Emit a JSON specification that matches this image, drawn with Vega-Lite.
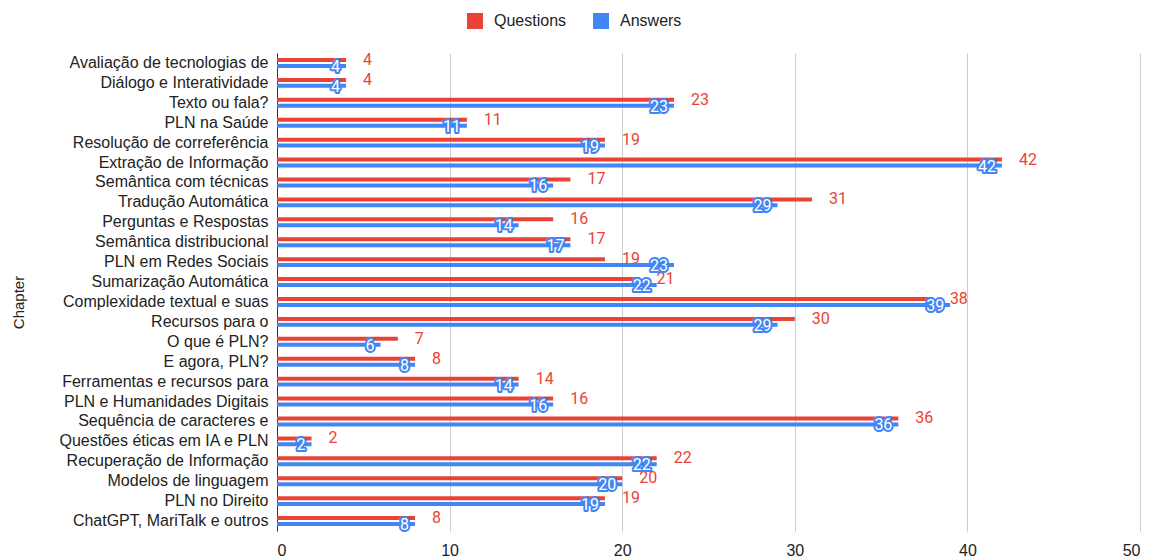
{
  "$schema": "https://vega.github.io/schema/vega-lite/v6.json",
  "width": 863,
  "height": 478,
  "autosize": "none",
  "padding": {"left": 277, "top": 53, "right": 12, "bottom": 27},
  "background": "white",
  "config": {"view": {"stroke": null}, "font": "Liberation Sans"},
  "data": {"values": [
    {"chapter": "Avaliação de tecnologias de", "series": "Questions", "value": 4},
    {"chapter": "Avaliação de tecnologias de", "series": "Answers", "value": 4},
    {"chapter": "Diálogo e Interatividade", "series": "Questions", "value": 4},
    {"chapter": "Diálogo e Interatividade", "series": "Answers", "value": 4},
    {"chapter": "Texto ou fala?", "series": "Questions", "value": 23},
    {"chapter": "Texto ou fala?", "series": "Answers", "value": 23},
    {"chapter": "PLN na Saúde", "series": "Questions", "value": 11},
    {"chapter": "PLN na Saúde", "series": "Answers", "value": 11},
    {"chapter": "Resolução de correferência", "series": "Questions", "value": 19},
    {"chapter": "Resolução de correferência", "series": "Answers", "value": 19},
    {"chapter": "Extração de Informação", "series": "Questions", "value": 42},
    {"chapter": "Extração de Informação", "series": "Answers", "value": 42},
    {"chapter": "Semântica com técnicas", "series": "Questions", "value": 17},
    {"chapter": "Semântica com técnicas", "series": "Answers", "value": 16},
    {"chapter": "Tradução Automática", "series": "Questions", "value": 31},
    {"chapter": "Tradução Automática", "series": "Answers", "value": 29},
    {"chapter": "Perguntas e Respostas", "series": "Questions", "value": 16},
    {"chapter": "Perguntas e Respostas", "series": "Answers", "value": 14},
    {"chapter": "Semântica distribucional", "series": "Questions", "value": 17},
    {"chapter": "Semântica distribucional", "series": "Answers", "value": 17},
    {"chapter": "PLN em Redes Sociais", "series": "Questions", "value": 19},
    {"chapter": "PLN em Redes Sociais", "series": "Answers", "value": 23},
    {"chapter": "Sumarização Automática", "series": "Questions", "value": 21},
    {"chapter": "Sumarização Automática", "series": "Answers", "value": 22},
    {"chapter": "Complexidade textual e suas", "series": "Questions", "value": 38},
    {"chapter": "Complexidade textual e suas", "series": "Answers", "value": 39},
    {"chapter": "Recursos para o", "series": "Questions", "value": 30},
    {"chapter": "Recursos para o", "series": "Answers", "value": 29},
    {"chapter": "O que é PLN?", "series": "Questions", "value": 7},
    {"chapter": "O que é PLN?", "series": "Answers", "value": 6},
    {"chapter": "E agora, PLN?", "series": "Questions", "value": 8},
    {"chapter": "E agora, PLN?", "series": "Answers", "value": 8},
    {"chapter": "Ferramentas e recursos para", "series": "Questions", "value": 14},
    {"chapter": "Ferramentas e recursos para", "series": "Answers", "value": 14},
    {"chapter": "PLN e Humanidades Digitais", "series": "Questions", "value": 16},
    {"chapter": "PLN e Humanidades Digitais", "series": "Answers", "value": 16},
    {"chapter": "Sequência de caracteres e", "series": "Questions", "value": 36},
    {"chapter": "Sequência de caracteres e", "series": "Answers", "value": 36},
    {"chapter": "Questões éticas em IA e PLN", "series": "Questions", "value": 2},
    {"chapter": "Questões éticas em IA e PLN", "series": "Answers", "value": 2},
    {"chapter": "Recuperação de Informação", "series": "Questions", "value": 22},
    {"chapter": "Recuperação de Informação", "series": "Answers", "value": 22},
    {"chapter": "Modelos de linguagem", "series": "Questions", "value": 20},
    {"chapter": "Modelos de linguagem", "series": "Answers", "value": 20},
    {"chapter": "PLN no Direito", "series": "Questions", "value": 19},
    {"chapter": "PLN no Direito", "series": "Answers", "value": 19},
    {"chapter": "ChatGPT, MariTalk e outros", "series": "Questions", "value": 8},
    {"chapter": "ChatGPT, MariTalk e outros", "series": "Answers", "value": 8}
  ]},
  "encoding": {
    "y": {
      "field": "chapter", "type": "nominal", "sort": null,
      "scale": {"paddingInner": 0.5, "paddingOuter": 0.25},
      "axis": {
        "domain": true, "domainColor": "#333333", "domainWidth": 1,
        "ticks": false, "grid": false,
        "labelFontSize": 16, "labelColor": "#222222", "labelPadding": 9, "labelLimit": 300,
        "title": "Chapter", "titleFontSize": 15, "titleFontWeight": "normal", "titleColor": "#222222",
        "titleX": -259, "titleY": 249, "titleAngle": -90, "titleAlign": "center", "titleBaseline": "middle"
      }
    },
    "yOffset": {
      "field": "series", "type": "nominal",
      "scale": {"domain": ["Questions", "Answers"], "paddingInner": 0.333, "paddingOuter": 0}
    },
    "x": {
      "field": "value", "type": "quantitative",
      "scale": {"domain": [0, 50], "nice": false},
      "axis": {
        "values": [0, 10, 20, 30, 40, 50],
        "domain": false, "ticks": false, "grid": true, "gridColor": "#cccccc",
        "labelFontSize": 16, "labelColor": "#222222", "labelPadding": 11, "title": null
      }
    }
  },
  "layer": [
    {
      "mark": {"type": "bar"},
      "encoding": {
        "color": {
          "field": "series", "type": "nominal",
          "scale": {"domain": ["Questions", "Answers"], "range": ["#EA4335", "#4285F4"]},
          "legend": {
            "orient": "none", "legendX": 190, "legendY": -40, "direction": "horizontal",
            "title": null, "symbolType": "square", "symbolSize": 256, "symbolStrokeWidth": 0,
            "labelFontSize": 16, "labelColor": "#222222", "labelOffset": 11, "columnPadding": 26
          }
        }
      }
    },
    {
      "transform": [{"filter": "datum.series === 'Questions'"}],
      "mark": {"type": "text", "align": "left", "baseline": "middle", "dx": 17, "font": "Roboto", "fontSize": 16, "color": "#EA4335"},
      "encoding": {"text": {"field": "value", "type": "quantitative"}}
    },
    {
      "transform": [{"filter": "datum.series === 'Answers'"}],
      "mark": {"type": "text", "align": "right", "baseline": "middle", "dx": -6, "dy": 1, "font": "Roboto", "fontSize": 16, "fill": "#4285F4", "stroke": "#4285F4", "strokeWidth": 4, "strokeJoin": "round"},
      "encoding": {"text": {"field": "value", "type": "quantitative"}}
    },
    {
      "transform": [{"filter": "datum.series === 'Answers'"}],
      "mark": {"type": "text", "align": "right", "baseline": "middle", "dx": -6, "dy": 1, "font": "Roboto", "fontSize": 16, "fill": "white"},
      "encoding": {"text": {"field": "value", "type": "quantitative"}}
    }
  ]
}
